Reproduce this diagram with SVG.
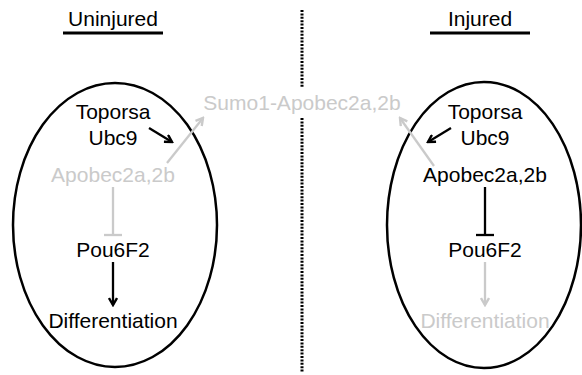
<svg xmlns="http://www.w3.org/2000/svg" width="582" height="375" viewBox="0 0 582 375">
  <defs>
    <style>
      text { font-family: "Liberation Sans", Arial, sans-serif; font-size: 21px; text-anchor: middle; }
      .dark { fill: #000; }
      .pale { fill: #cacaca; }
      .cell { fill: none; stroke: #000; stroke-width: 2.5; }
      .link { fill: none; stroke-width: 2.3; }
      .k { stroke: #000; }
      .g { stroke: #cacaca; }
    </style>
    <marker id="headK" viewBox="0 0 10 10" refX="8" refY="5" markerWidth="10" markerHeight="10" markerUnits="userSpaceOnUse" orient="auto">
      <path d="M1,1 L8,5 L1,9" fill="none" stroke="#000" stroke-width="2.4"/>
    </marker>
    <marker id="headG" viewBox="0 0 10 10" refX="8" refY="5" markerWidth="10" markerHeight="10" markerUnits="userSpaceOnUse" orient="auto">
      <path d="M1,1 L8,5 L1,9" fill="none" stroke="#cacaca" stroke-width="2.4"/>
    </marker>
  </defs>

  <rect width="582" height="375" fill="#fff"/>

  <!-- panel headings -->
  <g id="title-uninjured">
    <text x="113" y="26" class="dark">Uninjured</text>
    <line x1="63" y1="33" x2="163" y2="33" stroke="#000" stroke-width="3"/>
  </g>
  <g id="title-injured">
    <text x="480" y="26" class="dark">Injured</text>
    <line x1="430" y1="33" x2="530" y2="33" stroke="#000" stroke-width="3"/>
  </g>

  <!-- dotted divider -->
  <g id="divider" stroke="#000" stroke-width="3" stroke-dasharray="2 1.4">
    <line x1="302" y1="10" x2="302" y2="88"/>
    <line x1="302" y1="118" x2="302" y2="373"/>
  </g>

  <!-- cells -->
  <g id="cell-uninjured"><ellipse cx="115" cy="225" rx="102" ry="142" class="cell"/></g>
  <g id="cell-injured"><ellipse cx="484" cy="225" rx="97" ry="143" class="cell"/></g>

  <!-- shared product -->
  <g id="sumo-product"><text x="302" y="110" class="pale">Sumo1-Apobec2a,2b</text></g>

  <!-- uninjured nodes -->
  <g id="u-toporsa"><text x="113" y="119" class="dark">Toporsa</text></g>
  <g id="u-ubc9"><text x="113" y="145" class="dark">Ubc9</text></g>
  <g id="u-apobec"><text x="113" y="182" class="pale">Apobec2a,2b</text></g>
  <g id="u-pou6f2"><text x="113" y="257" class="dark">Pou6F2</text></g>
  <g id="u-diff"><text x="113" y="328" class="dark">Differentiation</text></g>

  <!-- injured nodes -->
  <g id="i-toporsa"><text x="485" y="119" class="dark">Toporsa</text></g>
  <g id="i-ubc9"><text x="485" y="145" class="dark">Ubc9</text></g>
  <g id="i-apobec"><text x="485" y="182" class="dark">Apobec2a,2b</text></g>
  <g id="i-pou6f2"><text x="485" y="257" class="dark">Pou6F2</text></g>
  <g id="i-diff"><text x="485" y="328" class="pale">Differentiation</text></g>

  <!-- connectors -->
  <g id="connectors">
    <line x1="149" y1="128" x2="172" y2="142" class="link k" marker-end="url(#headK)"/>
    <line x1="167" y1="163" x2="203" y2="118" class="link g" marker-end="url(#headG)"/>
    <line x1="113" y1="187" x2="113" y2="235" class="link g"/>
    <line x1="104" y1="235" x2="122" y2="235" class="link g"/>
    <line x1="113" y1="262" x2="113" y2="305" class="link k" marker-end="url(#headK)"/>

    <line x1="451" y1="128" x2="428" y2="142" class="link k" marker-end="url(#headK)"/>
    <line x1="434" y1="166" x2="400" y2="118" class="link g" marker-end="url(#headG)"/>
    <line x1="485" y1="187" x2="485" y2="235" class="link k"/>
    <line x1="476" y1="235" x2="494" y2="235" class="link k"/>
    <line x1="485" y1="262" x2="485" y2="305" class="link g" marker-end="url(#headG)"/>
  </g>
</svg>
